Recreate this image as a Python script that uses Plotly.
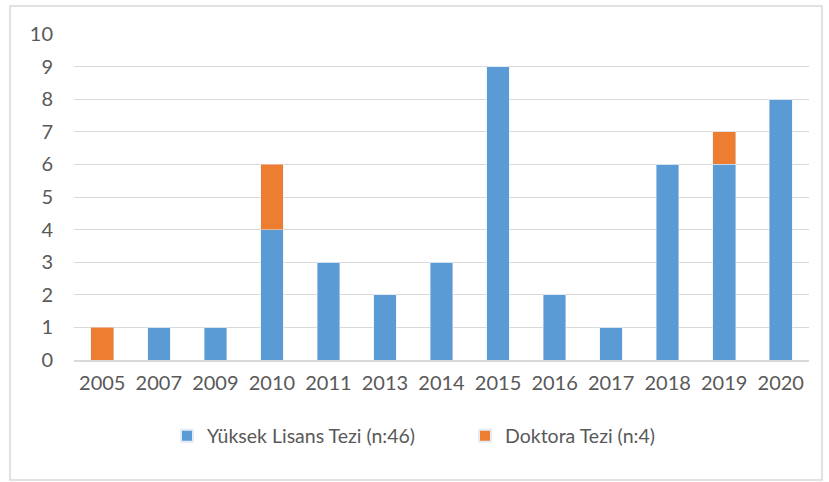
import plotly.graph_objects as go

years = ["2005", "2007", "2009", "2010", "2011", "2013", "2014", "2015", "2016", "2017", "2018", "2019", "2020"]
yuksek_lisans = [0, 1, 1, 4, 3, 2, 3, 9, 2, 1, 6, 6, 8]
doktora = [1, 0, 0, 2, 0, 0, 0, 0, 0, 0, 0, 1, 0]

font_family = "Lato, Open Sans, sans-serif"
text_color = "#595959"

fig = go.Figure()
fig.add_trace(go.Bar(x=years, y=yuksek_lisans, name="Yüksek Lisans Tezi (n:46)",
                     marker=dict(color="#5B9BD5")))
fig.add_trace(go.Bar(x=years, y=doktora, name="Doktora Tezi (n:4)",
                     marker=dict(color="#ED7D31")))

W, H = 829, 482
L, R, T, B = 74, 20, 34, 122
pw = W - L - R
ph = H - T - B

def px(x):
    return (x - L) / pw

def py(y):
    return (H - B - y) / ph

fig.update_layout(
    barmode="stack",
    bargap=0.6,
    width=W, height=H,
    margin=dict(l=L, r=R, t=T, b=B, autoexpand=False),
    paper_bgcolor="white",
    plot_bgcolor="white",
    font=dict(family=font_family, size=20, color=text_color),
    showlegend=True,
    legend=dict(orientation="h", x=px(167), xanchor="left", y=py(436), yanchor="middle",
                font=dict(size=19.5, color=text_color), itemsizing="constant",
                entrywidth=253, traceorder="normal"),
    xaxis=dict(type="category", showgrid=False, showline=True, linecolor="#d9d9d9",
               linewidth=1.5, ticks="", ticklabelstandoff=4,
               tickfont=dict(size=20, color=text_color)),
    yaxis=dict(range=[0, 10], dtick=1, showgrid=True, gridcolor="#d9d9d9", gridwidth=1,
               zeroline=False, showline=False, ticks="", ticklen=0,
               ticklabelstandoff=20,
               tickfont=dict(size=20, color=text_color)),
    shapes=[dict(type="rect", xref="paper", yref="paper",
                 x0=px(10), x1=px(822), y0=py(480), y1=py(6),
                 line=dict(color="#d9d9d9", width=1.5), fillcolor="rgba(0,0,0,0)",
                 layer="below")],
)

fig.write_html("out.html", config={"displayModeBar": False},
               post_script="document.body.style.margin='0';document.body.style.overflow='hidden';")
